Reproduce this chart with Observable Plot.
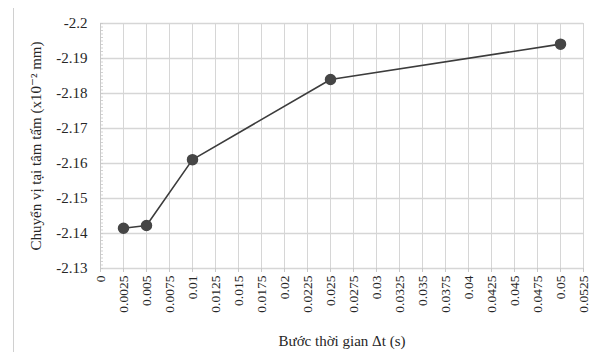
<!DOCTYPE html>
<html>
<head>
<meta charset="utf-8">
<script src="https://cdn.jsdelivr.net/npm/d3@7"></script>
<script src="https://cdn.jsdelivr.net/npm/@observablehq/plot@0.6"></script>
<style>
  html, body { margin: 0; padding: 0; background: #fff; }
  #wrap { position: relative; width: 594px; height: 352px; }
  #frame { position: absolute; left: 13px; top: 8px; width: 1px; height: 344px; background: #d0d0d0; }
</style>
</head>
<body>
<div id="wrap"><div id="frame"></div></div>
<script>
const timeSteps = [0.0025, 0.005, 0.01, 0.025, 0.05];
const displacement = [-2.1415, -2.1423, -2.1611, -2.1840, -2.1941];

const xTicks = [0, 0.0025, 0.005, 0.0075, 0.01, 0.0125, 0.015, 0.0175, 0.02, 0.0225, 0.025, 0.0275, 0.03, 0.0325, 0.035, 0.0375, 0.04, 0.0425, 0.045, 0.0475, 0.05, 0.0525];
const xTickLabels = ["0", "0.0025", "0.005", "0.0075", "0.01", "0.0125", "0.015", "0.0175", "0.02", "0.0225", "0.025", "0.0275", "0.03", "0.0325", "0.035", "0.0375", "0.04", "0.0425", "0.045", "0.0475", "0.05", "0.0525"];
const yTicks = [-2.13, -2.14, -2.15, -2.16, -2.17, -2.18, -2.19, -2.2];
const yTickLabels = ["-2.13", "-2.14", "-2.15", "-2.16", "-2.17", "-2.18", "-2.19", "-2.2"];
const yMinorTicks = d3.range(0, 71).map(i => -2.13 - i * 0.001);

const xLabel = "Bước thời gian Δt (s)";
const yLabel = "Chuyển vị tại tâm tấm (x10⁻² mm)";

const data = timeSteps.map((t, i) => ({t, v: displacement[i]}));

const grid = "#d6d6d6";
const ink = "#3c3c3c";
const textInk = "#262626";

const chart = Plot.plot({
  width: 594,
  height: 352,
  marginLeft: 100,
  marginRight: 11,
  marginTop: 23,
  marginBottom: 84,
  style: {fontFamily: "'Liberation Serif', 'DejaVu Serif', serif", color: textInk, background: "transparent"},
  x: {domain: [0, 0.0525]},
  y: {domain: [-2.2, -2.13], reverse: true},
  marks: [
    Plot.ruleX(xTicks, {stroke: grid, strokeWidth: 1}),
    Plot.ruleY(yTicks, {stroke: grid, strokeWidth: 1.3}),
    Plot.tickY(yMinorTicks, {stroke: "#c8c8c8", strokeWidth: 0.8, insetRight: 480}),
    Plot.ruleX([0], {stroke: "#c8c8c8", strokeWidth: 1}),
    Plot.axisX({
      ticks: xTicks,
      tickFormat: (d, i) => xTickLabels[i],
      tickRotate: -90,
      tickSize: 4,
      tickPadding: 3,
      stroke: "#c8c8c8",
      fontSize: 13.5,
      fill: textInk,
      label: xLabel,
      labelAnchor: "center",
      labelArrow: "none",
      labelOffset: 77
    }),
    Plot.axisY({
      ticks: yTicks,
      tickFormat: (d, i) => yTickLabels[i],
      tickSize: 0,
      tickPadding: 13,
      fontSize: 15,
      fill: textInk,
      label: yLabel,
      labelAnchor: "center",
      labelArrow: "none",
      labelOffset: 70
    }),
    Plot.line(data, {x: "t", y: "v", stroke: ink, strokeWidth: 1.6}),
    Plot.dot(data, {x: "t", y: "v", r: 5, fill: "#464646", stroke: "#464646"})
  ]
});
chart.style.position = "absolute";
chart.style.left = "0";
chart.style.top = "0";
// enlarge axis title text to match the reference
chart.querySelectorAll("g[aria-label='x-axis label'] text, g[aria-label='y-axis label'] text").forEach(t => t.setAttribute("font-size", "15"));
document.getElementById("wrap").appendChild(chart);
</script>
</body>
</html>
